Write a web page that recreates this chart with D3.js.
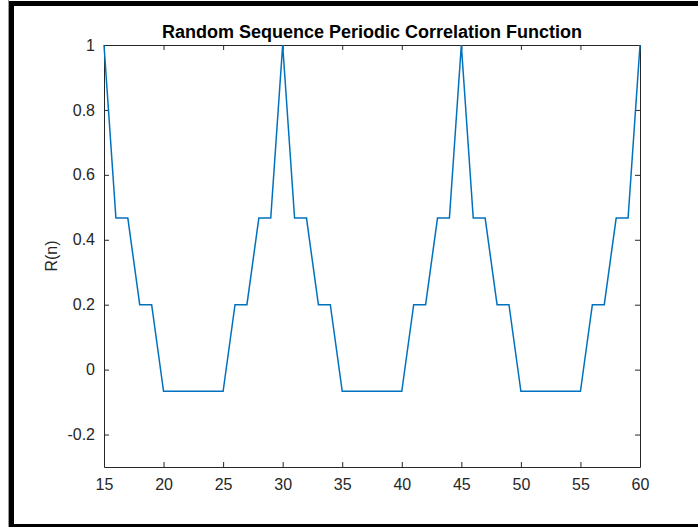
<!DOCTYPE html>
<html>
<head>
<meta charset="utf-8">
<script src="https://d3js.org/d3.v7.min.js"></script>
<style>
  body { margin: 0; background: #fff; }
  svg { display: block; font-family: "Liberation Sans", Arial, sans-serif; }
</style>
</head>
<body>
<div id="graph"></div>
<script>
// lag values and correlation
var lags = [15,16,17,18,19,20,21,22,23,24,25,26,27,28,29,
            30,31,32,33,34,35,36,37,38,39,40,41,42,43,44,
            45,46,47,48,49,50,51,52,53,54,55,56,57,58,59,60];
var corr = [1,0.4667,0.4667,0.2,0.2,-0.0667,-0.0667,-0.0667,-0.0667,-0.0667,-0.0667,0.2,0.2,0.4667,0.4667,
            1,0.4667,0.4667,0.2,0.2,-0.0667,-0.0667,-0.0667,-0.0667,-0.0667,-0.0667,0.2,0.2,0.4667,0.4667,
            1,0.4667,0.4667,0.2,0.2,-0.0667,-0.0667,-0.0667,-0.0667,-0.0667,-0.0667,0.2,0.2,0.4667,0.4667,1];
var xTicks = [15,20,25,30,35,40,45,50,55,60];
var yTicks = [-0.2,0,0.2,0.4,0.6,0.8,1];
var titleText = "Random Sequence Periodic Correlation Function";
var yLabel = "R(n)";

var W = 698, H = 527;
var margin = {top: 45, right: 58, bottom: 60, left: 104};
var width = W - margin.left - margin.right,
    height = H - margin.top - margin.bottom;
var axisCol = "#262626";

var svg = d3.select("#graph").append("svg")
    .attr("width", W)
    .attr("height", H);

// figure frame (black border, left/top/bottom)
svg.append("line").attr("x1", 8.5).attr("x2", 8.5).attr("y1", 0).attr("y2", H)
    .attr("stroke", "#999").attr("stroke-width", 1);
svg.append("rect")
    .attr("x", 11.5).attr("y", 3.5)
    .attr("width", 720).attr("height", 523)
    .attr("fill", "none").attr("stroke", "#000").attr("stroke-width", 5);

var g = svg.append("g")
    .attr("transform", "translate(" + margin.left + "," + margin.top + ")");

var xScale = d3.scaleLinear().domain([15, 60]).range([0, width]);
var yScale = d3.scaleLinear().domain([-0.3, 1]).range([height, 0]);

function yFmt(d) { return String(+d.toFixed(1)); }

// axes, MATLAB style: ticks pointing inward on all four sides
var tk = 5;
var axB = g.append("g").attr("transform", "translate(0," + height + ")")
    .call(d3.axisBottom(xScale).tickValues(xTicks).tickSizeInner(-tk).tickSizeOuter(0).tickPadding(12).tickFormat(function(d) { return String(d); }));
var axT = g.append("g")
    .call(d3.axisTop(xScale).tickValues(xTicks).tickSizeInner(-tk).tickSizeOuter(0).tickFormat(""));
var axL = g.append("g")
    .call(d3.axisLeft(yScale).tickValues(yTicks).tickSizeInner(-tk).tickSizeOuter(0).tickPadding(9).tickFormat(yFmt));
var axR = g.append("g").attr("transform", "translate(" + width + ",0)")
    .call(d3.axisRight(yScale).tickValues(yTicks).tickSizeInner(-tk).tickSizeOuter(0).tickFormat(""));

[axB, axT, axL, axR].forEach(function(a) {
    a.selectAll("path").attr("stroke", axisCol).attr("stroke-width", 1);
    a.selectAll("line").attr("stroke", axisCol).attr("stroke-width", 1);
    a.selectAll("text").attr("fill", axisCol).style("font-size", "16px")
        .style("font-family", "'Liberation Sans', Arial, sans-serif");
});

// data line
var line = d3.line()
    .x(function(d, i) { return xScale(lags[i]); })
    .y(function(d) { return yScale(d); });

g.append("path")
    .datum(corr)
    .attr("fill", "none")
    .attr("stroke", "#0072BD")
    .attr("stroke-width", 1.5)
    .attr("d", line);

// title
g.append("text")
    .attr("x", width / 2).attr("y", -7)
    .attr("text-anchor", "middle")
    .style("font-size", "18px").style("font-weight", "bold")
    .attr("fill", "#000")
    .text(titleText);

// y label
g.append("text")
    .attr("text-anchor", "middle")
    .attr("transform", "translate(" + (-47) + "," + (height / 2) + ")rotate(-90)")
    .style("font-size", "16px")
    .attr("fill", axisCol)
    .text(yLabel);
</script>
</body>
</html>
